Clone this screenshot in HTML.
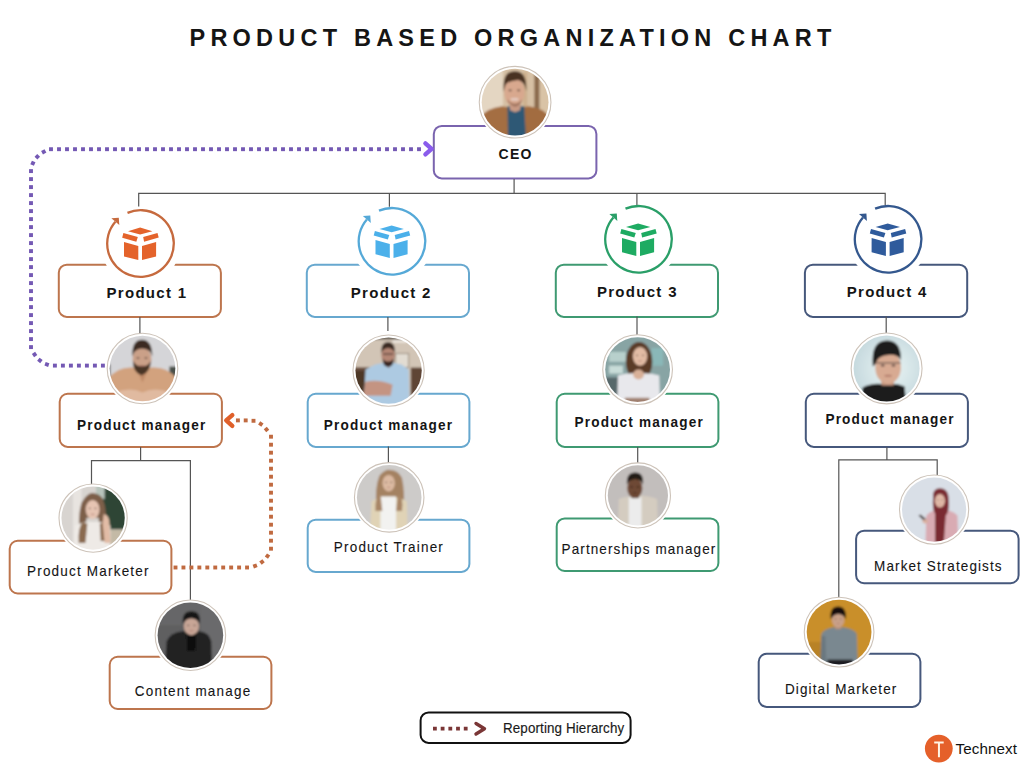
<!DOCTYPE html>
<html><head><meta charset="utf-8"><style>
html,body{margin:0;padding:0;background:#fff;}
svg{display:block;font-family:"Liberation Sans", sans-serif;}
</style></head><body>
<svg width="1024" height="768" viewBox="0 0 1024 768">
<defs>
<filter id="bl" x="-20%" y="-20%" width="140%" height="140%"><feGaussianBlur stdDeviation="0.9"/></filter>
<clipPath id="c1"><circle cx="0" cy="0" r="33.00"/></clipPath><clipPath id="c2"><circle cx="0" cy="0" r="33.00"/></clipPath><clipPath id="c3"><circle cx="0" cy="0" r="33.00"/></clipPath><clipPath id="c4"><circle cx="0" cy="0" r="33.00"/></clipPath><clipPath id="c5"><circle cx="0" cy="0" r="33.00"/></clipPath><clipPath id="c6"><circle cx="0" cy="0" r="33.00"/></clipPath><clipPath id="c7"><circle cx="0" cy="0" r="33.00"/></clipPath><clipPath id="c8"><circle cx="0" cy="0" r="33.00"/></clipPath><clipPath id="c9"><circle cx="0" cy="0" r="33.00"/></clipPath><clipPath id="c10"><circle cx="0" cy="0" r="33.00"/></clipPath><clipPath id="c11"><circle cx="0" cy="0" r="33.00"/></clipPath>
</defs>
<rect width="1024" height="768" fill="#fff"/>
<rect x="433.80" y="125.90" width="162.60" height="52.50" rx="8" fill="#fff" stroke="#7a64ae" stroke-width="2"/>
<rect x="58.80" y="264.70" width="162.10" height="52.20" rx="8" fill="#fff" stroke="#bd754d" stroke-width="2"/>
<rect x="306.80" y="264.70" width="162.20" height="52.20" rx="8" fill="#fff" stroke="#67a8cf" stroke-width="2"/>
<rect x="555.80" y="264.70" width="162.20" height="52.20" rx="8" fill="#fff" stroke="#3f9a72" stroke-width="2"/>
<rect x="804.90" y="264.70" width="162.30" height="52.20" rx="8" fill="#fff" stroke="#46587c" stroke-width="2"/>
<rect x="59.70" y="393.80" width="162.20" height="53.10" rx="8" fill="#fff" stroke="#bd754d" stroke-width="2"/>
<rect x="307.70" y="393.80" width="161.70" height="53.10" rx="8" fill="#fff" stroke="#67a8cf" stroke-width="2"/>
<rect x="556.70" y="393.80" width="161.70" height="53.10" rx="8" fill="#fff" stroke="#3f9a72" stroke-width="2"/>
<rect x="805.80" y="393.80" width="162.10" height="53.10" rx="8" fill="#fff" stroke="#46587c" stroke-width="2"/>
<rect x="9.70" y="540.80" width="161.70" height="52.70" rx="8" fill="#fff" stroke="#bd754d" stroke-width="2"/>
<rect x="109.70" y="656.80" width="161.70" height="52.20" rx="8" fill="#fff" stroke="#bd754d" stroke-width="2"/>
<rect x="307.70" y="519.70" width="161.70" height="52.20" rx="8" fill="#fff" stroke="#67a8cf" stroke-width="2"/>
<rect x="556.70" y="518.40" width="161.70" height="52.60" rx="8" fill="#fff" stroke="#3f9a72" stroke-width="2"/>
<rect x="856.10" y="530.70" width="162.50" height="52.50" rx="8" fill="#fff" stroke="#46587c" stroke-width="2"/>
<rect x="758.70" y="653.80" width="161.70" height="53.10" rx="8" fill="#fff" stroke="#46587c" stroke-width="2"/>
<circle cx="140.5" cy="243.5" r="40.5" fill="#fff"/>
<circle cx="392" cy="241.3" r="40.5" fill="#fff"/>
<circle cx="638.5" cy="239.3" r="40.5" fill="#fff"/>
<circle cx="888.1" cy="239.3" r="40.5" fill="#fff"/>
<circle cx="515.1" cy="102.2" r="38.20" fill="#fff"/>
<circle cx="142.5" cy="368.5" r="37.65" fill="#fff"/>
<circle cx="93.1" cy="518.1" r="36.45" fill="#fff"/>
<circle cx="190.4" cy="635.2" r="37.60" fill="#fff"/>
<circle cx="388.6" cy="370.6" r="37.95" fill="#fff"/>
<circle cx="389.2" cy="497.4" r="37.10" fill="#fff"/>
<circle cx="637.6" cy="369.6" r="37.20" fill="#fff"/>
<circle cx="637.9" cy="495.4" r="34.90" fill="#fff"/>
<circle cx="886.6" cy="368.4" r="37.80" fill="#fff"/>
<circle cx="934.1" cy="509.6" r="36.95" fill="#fff"/>
<circle cx="839.1" cy="632.1" r="37.20" fill="#fff"/>
<path d="M514.1,179 L514.1,193.4" fill="none" stroke="#555" stroke-width="1.2"/>
<path d="M138.7,206.5 L138.7,193.4 L885.2,193.4 L885.2,205.0" fill="none" stroke="#555" stroke-width="1.2"/>
<path d="M389.4,193.4 L389.4,206.7" fill="none" stroke="#555" stroke-width="1.2"/>
<path d="M636.9,193.4 L636.9,205.3" fill="none" stroke="#555" stroke-width="1.2"/>
<path d="M139.9,317 L139.9,334" fill="none" stroke="#555" stroke-width="1.2"/>
<path d="M140.6,447 L140.6,460.6" fill="none" stroke="#555" stroke-width="1.2"/>
<path d="M91.5,484 L91.5,460.6 L190.4,460.6 L190.4,600" fill="none" stroke="#555" stroke-width="1.2"/>
<path d="M387.9,317 L387.9,331" fill="none" stroke="#555" stroke-width="1.2"/>
<path d="M388.4,446.5 L388.4,463" fill="none" stroke="#555" stroke-width="1.2"/>
<path d="M637,316.5 L637,335" fill="none" stroke="#555" stroke-width="1.2"/>
<path d="M637.7,447 L637.7,463" fill="none" stroke="#555" stroke-width="1.2"/>
<path d="M886.2,316.5 L886.2,333" fill="none" stroke="#555" stroke-width="1.2"/>
<path d="M886.9,447.3 L886.9,459.9" fill="none" stroke="#555" stroke-width="1.2"/>
<path d="M838.8,598 L838.8,459.9 L937.2,459.9 L937.2,475" fill="none" stroke="#555" stroke-width="1.2"/>
<path d="M127.49,212.85 A33.3,33.3 0 1 1 115.37,221.65" fill="none" stroke="#c66a3e" stroke-width="2.3"/>
<path d="M118.78,217.73 L111.40,218.24 L119.30,225.11Z" fill="#c66a3e"/>
<g transform="translate(140.5,243.5)" fill="#e4632b"><path d="M-12.5,-12.3 L-0.4,-15.9 L11.9,-12.3 L-0.4,-9.1Z"/><path d="M-17.1,-10.4 L-2.7,-6.4 L-4.2,-1.7 L-18.3,-5.7Z"/><path d="M17.0,-10.4 L2.7,-6.4 L3.6,-1.7 L18.2,-5.9Z"/><path d="M-16.5,-1.4 L-2.2,2.6 L-2.2,16.6 L-16.5,12.9Z"/><path d="M1.5,2.6 L15.6,-1.4 L15.6,12.9 L1.5,16.6Z"/></g>
<path d="M378.99,210.65 A33.3,33.3 0 1 1 366.87,219.45" fill="none" stroke="#55a9d8" stroke-width="2.3"/>
<path d="M370.28,215.53 L362.90,216.04 L370.80,222.91Z" fill="#55a9d8"/>
<g transform="translate(392,241.3)" fill="#4bb0ea"><path d="M-12.5,-12.3 L-0.4,-15.9 L11.9,-12.3 L-0.4,-9.1Z"/><path d="M-17.1,-10.4 L-2.7,-6.4 L-4.2,-1.7 L-18.3,-5.7Z"/><path d="M17.0,-10.4 L2.7,-6.4 L3.6,-1.7 L18.2,-5.9Z"/><path d="M-16.5,-1.4 L-2.2,2.6 L-2.2,16.6 L-16.5,12.9Z"/><path d="M1.5,2.6 L15.6,-1.4 L15.6,12.9 L1.5,16.6Z"/></g>
<path d="M625.49,208.65 A33.3,33.3 0 1 1 613.37,217.45" fill="none" stroke="#2a9f68" stroke-width="2.3"/>
<path d="M616.78,213.53 L609.40,214.04 L617.30,220.91Z" fill="#2a9f68"/>
<g transform="translate(638.5,239.3)" fill="#1eab62"><path d="M-12.5,-12.3 L-0.4,-15.9 L11.9,-12.3 L-0.4,-9.1Z"/><path d="M-17.1,-10.4 L-2.7,-6.4 L-4.2,-1.7 L-18.3,-5.7Z"/><path d="M17.0,-10.4 L2.7,-6.4 L3.6,-1.7 L18.2,-5.9Z"/><path d="M-16.5,-1.4 L-2.2,2.6 L-2.2,16.6 L-16.5,12.9Z"/><path d="M1.5,2.6 L15.6,-1.4 L15.6,12.9 L1.5,16.6Z"/></g>
<path d="M875.09,208.65 A33.3,33.3 0 1 1 862.97,217.45" fill="none" stroke="#34588e" stroke-width="2.3"/>
<path d="M866.38,213.53 L859.00,214.04 L866.90,220.91Z" fill="#34588e"/>
<g transform="translate(888.1,239.3)" fill="#2f5b9c"><path d="M-12.5,-12.3 L-0.4,-15.9 L11.9,-12.3 L-0.4,-9.1Z"/><path d="M-17.1,-10.4 L-2.7,-6.4 L-4.2,-1.7 L-18.3,-5.7Z"/><path d="M17.0,-10.4 L2.7,-6.4 L3.6,-1.7 L18.2,-5.9Z"/><path d="M-16.5,-1.4 L-2.2,2.6 L-2.2,16.6 L-16.5,12.9Z"/><path d="M1.5,2.6 L15.6,-1.4 L15.6,12.9 L1.5,16.6Z"/></g>
<circle cx="515.1" cy="102.2" r="35.85" fill="#fff" stroke="#cdc3b9" stroke-width="1.1"/>
<g transform="translate(515.1,102.2) scale(1.0121)"><g clip-path="url(#c1)"><g filter="url(#bl)"><rect x="-40" y="-40" width="80" height="80" fill="#d6c0a4"/>
<rect x="-40" y="-40" width="28" height="80" fill="#e4d6c2"/>
<rect x="8" y="-30" width="4" height="40" fill="#cdb08e"/>
<rect x="19" y="-30" width="5" height="42" fill="#8a6b4e"/>
<rect x="25" y="-30" width="9" height="42" fill="#d9c3a6"/>
<path d="M-34,40 L-33,14 Q-28,6 -13,4 L-6,5 L-2,40Z" fill="#a46e42"/>
<path d="M34,40 L34,16 Q30,6 13,4 L8,5 L4,40Z" fill="#a26c40"/>
<path d="M-7.5,4 L9,4 L11,40 L-7,40Z" fill="#2d5874"/>
<path d="M-6,-2 L6,-2 L5,8 L0,10 L-5,8Z" fill="#c89a84"/>
<ellipse cx="-0.7" cy="-10" rx="10" ry="14.2" fill="#d8a88e"/><ellipse cx="-4.90" cy="-11.70" rx="1.60" ry="0.85" fill="#3a2820" opacity="0.75"/><ellipse cx="3.50" cy="-11.70" rx="1.60" ry="0.85" fill="#3a2820" opacity="0.75"/><ellipse cx="-0.70" cy="-2.90" rx="3.00" ry="0.85" fill="#9a5a50" opacity="0.6"/>
<path d="M-11.2,-10 Q-13,-31 -0.5,-30.5 Q12,-31 11,-11 Q10,-20 3,-22 Q-6,-21 -9,-18 Q-10.5,-15 -11.2,-10Z" fill="#4a3322"/>
<path d="M-8,-3 Q0,6 7,-3 Q6,3 0,4.5 Q-6,3 -8,-3Z" fill="#7a5040" opacity="0.6"/>
<ellipse cx="-0.5" cy="-3" rx="4" ry="1.2" fill="#f0e0d8" opacity="0.8"/>
</g></g></g>
<circle cx="142.5" cy="368.5" r="35.30" fill="#fff" stroke="#cdc3b9" stroke-width="1.1"/>
<g transform="translate(142.5,368.5) scale(0.9955)"><g clip-path="url(#c2)"><g filter="url(#bl)"><rect x="-40" y="-40" width="80" height="80" fill="#d5d5d8"/>
<rect x="-40" y="-4" width="7.5" height="26" fill="#1e1e1e"/>
<rect x="27" y="-2" width="8" height="14" fill="#4a5048"/>
<path d="M-36,40 L-34,10 Q-26,-1 -12,-1 L12,-1 Q26,-1 34,10 L36,40Z" fill="#d2a27e"/>
<path d="M-30,40 L-28,24 Q-12,18 0,24 Q12,18 28,24 L30,40Z" fill="#e0baa0"/>
<path d="M-6,0 L0,14 L6,0Z" fill="#c08a68"/>
<ellipse cx="-0.5" cy="-9" rx="9.5" ry="12.5" fill="#caa088"/><ellipse cx="-4.49" cy="-10.50" rx="1.52" ry="0.75" fill="#3a2820" opacity="0.75"/><ellipse cx="3.49" cy="-10.50" rx="1.52" ry="0.75" fill="#3a2820" opacity="0.75"/><ellipse cx="-0.50" cy="-2.75" rx="2.85" ry="0.75" fill="#9a5a50" opacity="0.6"/>
<path d="M-9.5,-8 Q-10,4 -1,7 Q8,4 8.5,-8 Q6,-2 -0.5,-2 Q-7,-2 -9.5,-8Z" fill="#4a3426"/>
<path d="M-10.2,-12 Q-11,-29 -0.5,-29 Q10,-29 9.8,-12 Q9,-19 -0.5,-20 Q-9,-19 -10.2,-12Z" fill="#3a2a20"/>
</g></g></g>
<circle cx="93.1" cy="518.1" r="34.10" fill="#fff" stroke="#cdc3b9" stroke-width="1.1"/>
<g transform="translate(93.1,518.1) scale(0.9591)"><g clip-path="url(#c3)"><g filter="url(#bl)"><rect x="-40" y="-40" width="80" height="80" fill="#d8d4d0"/>
<rect x="-21" y="-40" width="9" height="80" fill="#e8e4e0"/>
<path d="M12,-40 L40,-40 L40,12 L10,12 L6,-8 Q5,-20 9,-30Z" fill="#2f4434"/>
<rect x="3" y="-36" width="9" height="16" fill="#b8c4bc"/>
<rect x="8" y="12" width="32" height="30" fill="#c4baa6"/>
<path d="M-14,22 Q-16,-4 -12,-16 Q-6,-27 1,-26 Q10,-25 12,-14 Q15,0 13,24 L6,24 L6,0 L-7,0 L-8,24Z" fill="#7d5e48"/>
<path d="M-20,40 L-19,8 Q-10,3 0,4 Q10,3 18,8 L18,40Z" fill="#eeeae6"/>
<path d="M-15,26 Q-16,10 -11,4 L-6,6 L-8,26Z" fill="#8a6a50"/>
<path d="M13,24 Q15,10 11,4 L7,6 L8,24Z" fill="#8a6a50"/>
<ellipse cx="-0.5" cy="-9" rx="7.2" ry="10" fill="#e6c4b2"/><ellipse cx="-3.52" cy="-10.20" rx="1.15" ry="0.60" fill="#3a2820" opacity="0.75"/><ellipse cx="2.52" cy="-10.20" rx="1.15" ry="0.60" fill="#3a2820" opacity="0.75"/><ellipse cx="-0.50" cy="-4.00" rx="2.16" ry="0.60" fill="#9a5a50" opacity="0.6"/>
<path d="M11,-4 Q16,-4 17,4 L18,26 L12,26 L10,6Z" fill="#e2bca6"/>
</g></g></g>
<circle cx="190.4" cy="635.2" r="35.25" fill="#fff" stroke="#cdc3b9" stroke-width="1.1"/>
<g transform="translate(190.4,635.2) scale(0.9939)"><g clip-path="url(#c4)"><g filter="url(#bl)"><rect x="-40" y="-40" width="80" height="80" fill="#5e5e60"/>
<rect x="-40" y="-40" width="80" height="30" fill="#666668"/>
<rect x="10" y="-40" width="30" height="80" fill="#6a6a6c"/>
<path d="M-26,40 L-24,6 Q-20,-3 -8,-4 L9,-4 Q19,-3 21,6 L22,40Z" fill="#242424"/>
<path d="M-4,-4 L6,-4 L5,16 L-3,16Z" fill="#111"/>
<ellipse cx="1" cy="-9" rx="7.6" ry="9" fill="#c8a696"/><ellipse cx="-2.19" cy="-10.08" rx="1.22" ry="0.54" fill="#2a2020" opacity="0.75"/><ellipse cx="4.19" cy="-10.08" rx="1.22" ry="0.54" fill="#2a2020" opacity="0.75"/><ellipse cx="1.00" cy="-4.50" rx="2.28" ry="0.54" fill="#9a5a50" opacity="0.6"/>
<path d="M-7.5,-11 Q-9,-24 1,-24 Q11,-24 9.5,-11 Q8,-16 1,-17 Q-6,-16 -7.5,-11Z" fill="#151515"/>
</g></g></g>
<circle cx="388.6" cy="370.6" r="35.60" fill="#fff" stroke="#cdc3b9" stroke-width="1.1"/>
<g transform="translate(388.6,370.6) scale(1.0045)"><g clip-path="url(#c5)"><g filter="url(#bl)"><rect x="-40" y="-40" width="80" height="80" fill="#d2c5b6"/>
<rect x="-40" y="-40" width="80" height="9" fill="#5c544c"/>
<rect x="4" y="-30" width="14" height="2" fill="#f4f0ea"/>
<rect x="7" y="-17" width="13" height="14" fill="#e2dcd2" stroke="#8a7a6a" stroke-width="0.8"/>
<rect x="-40" y="-3" width="26" height="44" fill="#4e3828"/>
<rect x="22" y="-3" width="18" height="44" fill="#5e4434"/>
<rect x="-34" y="-3" width="22" height="3" fill="#6a5040"/>
<path d="M-25,40 L-23,-1 Q-12,-8 0,-8 Q13,-8 20,-1 L21,40Z" fill="#adcae2"/>
<path d="M-25,25 L-23,11 Q-10,8 4,14 L2,25Z" fill="#c49482"/>
<path d="M-3,-8 L3,-8 L0,-2Z" fill="#9a7060"/>
<ellipse cx="-0.5" cy="-15.5" rx="6.8" ry="8.3" fill="#b48674"/>
<path d="M-6,-12 Q-6,-4 -0.5,-3.5 Q5,-4 5.5,-12 Q3,-9 -0.5,-9 Q-4,-9 -6,-12Z" fill="#3a2820"/>
<path d="M-7.3,-17 Q-8,-28.5 -0.5,-28.5 Q7,-28.5 6.3,-17 Q5,-22 -0.5,-22.5 Q-6,-22 -7.3,-17Z" fill="#3a2a20"/>
<path d="M-5.5,-16.5 L4.5,-16.5" stroke="#2a2020" stroke-width="0.9"/>
</g></g></g>
<circle cx="389.2" cy="497.4" r="34.75" fill="#fff" stroke="#cdc3b9" stroke-width="1.1"/>
<g transform="translate(389.2,497.4) scale(0.9788)"><g clip-path="url(#c6)"><g filter="url(#bl)"><rect x="-40" y="-40" width="80" height="80" fill="#cdcbc9"/>
<path d="M-13,12 Q-15,-10 -10,-22 Q-4,-29 1,-28 Q9,-28 13,-20 Q16,-6 15,12 Z" fill="#a48262"/>
<path d="M-20,40 L-18,4 Q-12,0 -6,0 L6,0 Q12,0 18,4 L19,40Z" fill="#e0d3b6"/>
<path d="M-9,40 L-9,-1 L7,-1 L7,40Z" fill="#f2f2f0"/>
<path d="M-14,14 Q-15,0 -9,-4 L-7,14Z" fill="#a88666"/>
<path d="M13,14 Q15,0 9,-4 L7,14Z" fill="#a88666"/>
<ellipse cx="-0.5" cy="-14.5" rx="6.3" ry="8.5" fill="#dcbaa2"/><ellipse cx="-3.15" cy="-15.52" rx="1.01" ry="0.51" fill="#3a2820" opacity="0.75"/><ellipse cx="2.15" cy="-15.52" rx="1.01" ry="0.51" fill="#3a2820" opacity="0.75"/><ellipse cx="-0.50" cy="-10.25" rx="1.89" ry="0.51" fill="#9a5a50" opacity="0.6"/>
</g></g></g>
<circle cx="637.6" cy="369.6" r="34.85" fill="#fff" stroke="#cdc3b9" stroke-width="1.1"/>
<g transform="translate(637.6,369.6) scale(0.9818)"><g clip-path="url(#c7)"><g filter="url(#bl)"><rect x="-40" y="-40" width="80" height="80" fill="#88a4a4"/>
<rect x="-29" y="-18" width="17" height="10" fill="#b8d0cc"/>
<rect x="-29" y="-4" width="14" height="8" fill="#c8dcd8"/>
<rect x="-40" y="8" width="22" height="32" fill="#56676a"/>
<rect x="14" y="-22" width="12" height="18" fill="#8ab8b8"/>
<ellipse cx="1.5" cy="-8" rx="13.5" ry="20" fill="#5a3a28"/>
<path d="M-21,40 L-20,6 Q-10,3 0,4 Q12,3 22,6 L23,40Z" fill="#e8e8ec"/>
<rect x="-13" y="28.7" width="25" height="6" fill="#a08070"/>
<ellipse cx="2.5" cy="-13.5" rx="7.3" ry="9.5" fill="#e2bca4"/><ellipse cx="-0.57" cy="-14.64" rx="1.17" ry="0.57" fill="#3a2820" opacity="0.75"/><ellipse cx="5.57" cy="-14.64" rx="1.17" ry="0.57" fill="#3a2820" opacity="0.75"/><ellipse cx="2.50" cy="-8.75" rx="2.19" ry="0.57" fill="#9a5a50" opacity="0.6"/>
<ellipse cx="1" cy="5" rx="5.5" ry="5" fill="#d8b098"/>
</g></g></g>
<circle cx="637.9" cy="495.4" r="32.55" fill="#fff" stroke="#cdc3b9" stroke-width="1.1"/>
<g transform="translate(637.9,495.4) scale(0.9121)"><g clip-path="url(#c8)"><g filter="url(#bl)"><rect x="-40" y="-40" width="80" height="80" fill="#c2bebc"/>
<path d="M-22,40 L-21,4 Q-10,0 0,0 Q12,0 21,4 L22,40Z" fill="#d4ccc0"/>
<path d="M-10,40 L-10,2 L4,2 L4,40Z" fill="#ececec"/>
<rect x="-7" y="-2" width="8" height="5" fill="#5a3a28"/>
<ellipse cx="-3.4" cy="-8" rx="8.3" ry="11" fill="#6e4834"/><ellipse cx="-6.89" cy="-9.32" rx="1.33" ry="0.66" fill="#1e1410" opacity="0.75"/><ellipse cx="0.09" cy="-9.32" rx="1.33" ry="0.66" fill="#1e1410" opacity="0.75"/><ellipse cx="-3.40" cy="-2.50" rx="2.49" ry="0.66" fill="#3a2018" opacity="0.6"/>
<path d="M-12,-12 Q-13,-25 -3,-25 Q7,-25 5.5,-12 Q4,-17 -3,-18 Q-10,-17 -12,-12Z" fill="#241a14"/>
</g></g></g>
<circle cx="886.6" cy="368.4" r="35.45" fill="#fff" stroke="#cdc3b9" stroke-width="1.1"/>
<g transform="translate(886.6,368.4) scale(1.0000)"><g clip-path="url(#c9)"><g filter="url(#bl)"><rect x="-40" y="-40" width="80" height="80" fill="#d2e4e8"/>
<radialGradient id="g4" cx="0.55" cy="0.5" r="0.6"><stop offset="0" stop-color="#eaf4f4"/><stop offset="1" stop-color="#bcd2d8"/></radialGradient>
<rect x="-40" y="-40" width="80" height="80" fill="url(#g4)"/>
<path d="M-26,40 L-24,19 Q-14,14 -2,16 Q10,14 18,18 L20,40Z" fill="#1a1a1e"/>
<path d="M-6,8 L8,8 L7,17 L-5,17Z" fill="#c89880"/>
<ellipse cx="1.5" cy="-1" rx="12.8" ry="16.5" fill="#d8aa92"/><ellipse cx="-3.88" cy="-2.98" rx="2.05" ry="0.99" fill="#2a2020" opacity="0.75"/><ellipse cx="6.88" cy="-2.98" rx="2.05" ry="0.99" fill="#2a2020" opacity="0.75"/><ellipse cx="1.50" cy="7.25" rx="3.84" ry="0.99" fill="#9a5a50" opacity="0.6"/>
<path d="M-13.8,-2 Q-16,-28 0,-28 Q15,-28 14.3,-8 Q12,-14 2,-13.5 Q-7,-13 -9.5,-8 Q-10.5,-4 -13.8,-2Z" fill="#1c1a1a"/>
<path d="M-10,-5.5 L14,-5.5" stroke="#5a4a44" stroke-width="1"/>
</g></g></g>
<circle cx="934.1" cy="509.6" r="34.60" fill="#fff" stroke="#cdc3b9" stroke-width="1.1"/>
<g transform="translate(934.1,509.6) scale(0.9742)"><g clip-path="url(#c10)"><g filter="url(#bl)"><rect x="-40" y="-40" width="80" height="80" fill="#d9dfe7"/>
<path d="M-9,40 L-8,6 Q-2,0 6,0 Q18,0 24,6 L25,40Z" fill="#d9abb3"/>
<path d="M-1,-12 Q-2,-22 6,-22 Q15,-22 15,-10 Q16,2 12,6 L10,34 L1,34 L1,4 Q-2,0 -1,-12Z" fill="#7a2a30"/>
<ellipse cx="6" cy="-9" rx="5.2" ry="6.9" fill="#e2baa8"/><ellipse cx="3.82" cy="-9.83" rx="0.83" ry="0.41" fill="#3a2820" opacity="0.75"/><ellipse cx="8.18" cy="-9.83" rx="0.83" ry="0.41" fill="#3a2820" opacity="0.75"/><ellipse cx="6.00" cy="-5.55" rx="1.56" ry="0.41" fill="#9a5a50" opacity="0.6"/>
<path d="M-16,6 L-10,12 L-8,10 L-14,5Z" fill="#4a4040"/>
<ellipse cx="-9" cy="12" rx="3" ry="2.2" fill="#dab0a0"/>
</g></g></g>
<circle cx="839.1" cy="632.1" r="34.85" fill="#fff" stroke="#cdc3b9" stroke-width="1.1"/>
<g transform="translate(839.1,632.1) scale(0.9818)"><g clip-path="url(#c11)"><g filter="url(#bl)"><rect x="-40" y="-40" width="80" height="80" fill="#c98f2c"/>
<rect x="-40" y="10" width="22" height="30" fill="#b88226"/>
<path d="M-19,32 L-18,2 Q-16,-3 -6,-5 L5,-5 Q16,-3 18,2 L19,32Z" fill="#7a8890"/>
<path d="M-19,32 L-18,4 L-14,4 L-13,32Z" fill="#6a7880"/>
<rect x="-12" y="28" width="26" height="12" fill="#1e1e22"/>
<rect x="-4" y="-9" width="6" height="6" fill="#b89078"/>
<ellipse cx="-1" cy="-12.5" rx="6.3" ry="7.8" fill="#c9a088"/><ellipse cx="-3.65" cy="-13.44" rx="1.01" ry="0.47" fill="#2a2020" opacity="0.75"/><ellipse cx="1.65" cy="-13.44" rx="1.01" ry="0.47" fill="#2a2020" opacity="0.75"/><ellipse cx="-1.00" cy="-8.60" rx="1.89" ry="0.47" fill="#9a5a50" opacity="0.6"/>
<path d="M-8.5,-13 Q-10,-26 -1,-26 Q8,-26 6.8,-13 Q5,-18 -1,-18.5 Q-6,-18 -8.5,-13Z" fill="#16110e"/>
</g></g></g>
<g fill="#7459b4"><rect x="100.95" y="363.65" width="3.9" height="3.9"/><rect x="92.95" y="363.65" width="3.9" height="3.9"/><rect x="84.95" y="363.65" width="3.9" height="3.9"/><rect x="76.95" y="363.65" width="3.9" height="3.9"/><rect x="68.95" y="363.65" width="3.9" height="3.9"/><rect x="60.95" y="363.65" width="3.9" height="3.9"/><rect x="52.95" y="363.65" width="3.9" height="3.9"/><rect x="-1.95" y="-1.95" width="3.9" height="3.9" transform="translate(46.90,364.40) rotate(-160.9)"/><rect x="-1.95" y="-1.95" width="3.9" height="3.9" transform="translate(39.90,360.40) rotate(-141.2)"/><rect x="-1.95" y="-1.95" width="3.9" height="3.9" transform="translate(34.60,354.50) rotate(-123.8)"/><rect x="29.05" y="345.15" width="3.9" height="3.9"/><rect x="29.05" y="337.15" width="3.9" height="3.9"/><rect x="29.05" y="329.15" width="3.9" height="3.9"/><rect x="29.05" y="321.15" width="3.9" height="3.9"/><rect x="29.05" y="313.15" width="3.9" height="3.9"/><rect x="29.05" y="305.15" width="3.9" height="3.9"/><rect x="29.05" y="297.15" width="3.9" height="3.9"/><rect x="29.05" y="289.15" width="3.9" height="3.9"/><rect x="29.05" y="281.15" width="3.9" height="3.9"/><rect x="29.05" y="273.15" width="3.9" height="3.9"/><rect x="29.05" y="265.15" width="3.9" height="3.9"/><rect x="29.05" y="257.15" width="3.9" height="3.9"/><rect x="29.05" y="249.15" width="3.9" height="3.9"/><rect x="29.05" y="241.15" width="3.9" height="3.9"/><rect x="29.05" y="233.15" width="3.9" height="3.9"/><rect x="29.05" y="225.15" width="3.9" height="3.9"/><rect x="29.05" y="217.15" width="3.9" height="3.9"/><rect x="29.05" y="209.15" width="3.9" height="3.9"/><rect x="29.05" y="201.15" width="3.9" height="3.9"/><rect x="29.05" y="193.15" width="3.9" height="3.9"/><rect x="29.05" y="185.15" width="3.9" height="3.9"/><rect x="29.05" y="177.15" width="3.9" height="3.9"/><rect x="29.05" y="169.15" width="3.9" height="3.9"/><rect x="-1.95" y="-1.95" width="3.9" height="3.9" transform="translate(32.90,163.30) rotate(-66.2)"/><rect x="-1.95" y="-1.95" width="3.9" height="3.9" transform="translate(37.30,156.80) rotate(-46.5)"/><rect x="-1.95" y="-1.95" width="3.9" height="3.9" transform="translate(43.75,151.85) rotate(-29.0)"/><rect x="49.05" y="147.25" width="3.9" height="3.9"/><rect x="57.05" y="147.25" width="3.9" height="3.9"/><rect x="65.05" y="147.25" width="3.9" height="3.9"/><rect x="73.05" y="147.25" width="3.9" height="3.9"/><rect x="81.05" y="147.25" width="3.9" height="3.9"/><rect x="89.05" y="147.25" width="3.9" height="3.9"/><rect x="97.05" y="147.25" width="3.9" height="3.9"/><rect x="105.05" y="147.25" width="3.9" height="3.9"/><rect x="113.05" y="147.25" width="3.9" height="3.9"/><rect x="121.05" y="147.25" width="3.9" height="3.9"/><rect x="129.05" y="147.25" width="3.9" height="3.9"/><rect x="137.05" y="147.25" width="3.9" height="3.9"/><rect x="145.05" y="147.25" width="3.9" height="3.9"/><rect x="153.05" y="147.25" width="3.9" height="3.9"/><rect x="161.05" y="147.25" width="3.9" height="3.9"/><rect x="169.05" y="147.25" width="3.9" height="3.9"/><rect x="177.05" y="147.25" width="3.9" height="3.9"/><rect x="185.05" y="147.25" width="3.9" height="3.9"/><rect x="193.05" y="147.25" width="3.9" height="3.9"/><rect x="201.05" y="147.25" width="3.9" height="3.9"/><rect x="209.05" y="147.25" width="3.9" height="3.9"/><rect x="217.05" y="147.25" width="3.9" height="3.9"/><rect x="225.05" y="147.25" width="3.9" height="3.9"/><rect x="233.05" y="147.25" width="3.9" height="3.9"/><rect x="241.05" y="147.25" width="3.9" height="3.9"/><rect x="249.05" y="147.25" width="3.9" height="3.9"/><rect x="257.05" y="147.25" width="3.9" height="3.9"/><rect x="265.05" y="147.25" width="3.9" height="3.9"/><rect x="273.05" y="147.25" width="3.9" height="3.9"/><rect x="281.05" y="147.25" width="3.9" height="3.9"/><rect x="289.05" y="147.25" width="3.9" height="3.9"/><rect x="297.05" y="147.25" width="3.9" height="3.9"/><rect x="305.05" y="147.25" width="3.9" height="3.9"/><rect x="313.05" y="147.25" width="3.9" height="3.9"/><rect x="321.05" y="147.25" width="3.9" height="3.9"/><rect x="329.05" y="147.25" width="3.9" height="3.9"/><rect x="337.05" y="147.25" width="3.9" height="3.9"/><rect x="345.05" y="147.25" width="3.9" height="3.9"/><rect x="353.05" y="147.25" width="3.9" height="3.9"/><rect x="361.05" y="147.25" width="3.9" height="3.9"/><rect x="369.05" y="147.25" width="3.9" height="3.9"/><rect x="377.05" y="147.25" width="3.9" height="3.9"/><rect x="385.05" y="147.25" width="3.9" height="3.9"/><rect x="393.05" y="147.25" width="3.9" height="3.9"/><rect x="401.05" y="147.25" width="3.9" height="3.9"/><rect x="409.05" y="147.25" width="3.9" height="3.9"/><rect x="417.05" y="147.25" width="3.9" height="3.9"/></g>
<path d="M425.4,143.4 L431.6,148.9 L425.4,154.4" fill="none" stroke="#8a5cec" stroke-width="4.4" stroke-linecap="round" stroke-linejoin="round"/>
<g fill="#c06a40"><rect x="173.55" y="565.55" width="3.9" height="3.9"/><rect x="181.50" y="565.55" width="3.9" height="3.9"/><rect x="189.45" y="565.55" width="3.9" height="3.9"/><rect x="197.40" y="565.55" width="3.9" height="3.9"/><rect x="205.35" y="565.55" width="3.9" height="3.9"/><rect x="213.30" y="565.55" width="3.9" height="3.9"/><rect x="221.25" y="565.55" width="3.9" height="3.9"/><rect x="229.20" y="565.55" width="3.9" height="3.9"/><rect x="237.15" y="565.55" width="3.9" height="3.9"/><rect x="245.10" y="565.55" width="3.9" height="3.9"/><rect x="-1.95" y="-1.95" width="3.9" height="3.9" transform="translate(255.10,565.90) rotate(-20.5)"/><rect x="-1.95" y="-1.95" width="3.9" height="3.9" transform="translate(262.00,561.90) rotate(-38.3)"/><rect x="-1.95" y="-1.95" width="3.9" height="3.9" transform="translate(267.50,556.10) rotate(-55.7)"/><rect x="269.05" y="546.75" width="3.9" height="3.9"/><rect x="269.05" y="538.75" width="3.9" height="3.9"/><rect x="269.05" y="530.75" width="3.9" height="3.9"/><rect x="269.05" y="522.75" width="3.9" height="3.9"/><rect x="269.05" y="514.75" width="3.9" height="3.9"/><rect x="269.05" y="506.75" width="3.9" height="3.9"/><rect x="269.05" y="498.75" width="3.9" height="3.9"/><rect x="269.05" y="490.75" width="3.9" height="3.9"/><rect x="269.05" y="482.75" width="3.9" height="3.9"/><rect x="269.05" y="474.75" width="3.9" height="3.9"/><rect x="269.05" y="466.75" width="3.9" height="3.9"/><rect x="269.05" y="458.75" width="3.9" height="3.9"/><rect x="269.05" y="450.75" width="3.9" height="3.9"/><rect x="269.05" y="442.75" width="3.9" height="3.9"/><rect x="269.05" y="434.75" width="3.9" height="3.9"/><rect x="-1.95" y="-1.95" width="3.9" height="3.9" transform="translate(266.50,429.50) rotate(-128.8)"/><rect x="-1.95" y="-1.95" width="3.9" height="3.9" transform="translate(260.80,424.00) rotate(-146.2)"/><rect x="251.55" y="418.85" width="3.9" height="3.9"/><rect x="243.75" y="418.45" width="3.9" height="3.9"/><rect x="235.95" y="418.45" width="3.9" height="3.9"/></g>
<path d="M232.3,415.2 L226.2,420.4 L232.3,425.8" fill="none" stroke="#e0602a" stroke-width="4.4" stroke-linecap="round" stroke-linejoin="round"/>
<text x="189.5" y="46.2" font-size="23.5" font-weight="bold" letter-spacing="5.22" text-anchor="start" fill="#151515">PRODUCT BASED ORGANIZATION CHART</text>
<text x="515.6" y="158.8" font-size="14" font-weight="bold" letter-spacing="1.3" text-anchor="middle" fill="#151515">CEO</text>
<text x="106.5" y="297.7" font-size="15" font-weight="bold" letter-spacing="1.3" text-anchor="start" fill="#151515">Product 1</text>
<text x="350.8" y="297.7" font-size="15" font-weight="bold" letter-spacing="1.3" text-anchor="start" fill="#151515">Product 2</text>
<text x="596.9" y="296.9" font-size="15" font-weight="bold" letter-spacing="1.3" text-anchor="start" fill="#151515">Product 3</text>
<text x="846.7" y="296.9" font-size="15" font-weight="bold" letter-spacing="1.3" text-anchor="start" fill="#151515">Product 4</text>
<text transform="translate(77,429.8) scale(1,1.11)" x="0" y="0" font-size="13.6" font-weight="bold" letter-spacing="1.17" text-anchor="start" fill="#151515">Product manager</text>
<text transform="translate(323.8,429.8) scale(1,1.11)" x="0" y="0" font-size="13.6" font-weight="bold" letter-spacing="1.17" text-anchor="start" fill="#151515">Product manager</text>
<text transform="translate(574.5,426.8) scale(1,1.11)" x="0" y="0" font-size="13.6" font-weight="bold" letter-spacing="1.17" text-anchor="start" fill="#151515">Product manager</text>
<text transform="translate(825.4,423.8) scale(1,1.11)" x="0" y="0" font-size="13.6" font-weight="bold" letter-spacing="1.17" text-anchor="start" fill="#151515">Product manager</text>
<text transform="translate(27,576) scale(1,1.12)" x="0" y="0" font-size="13.5" font-weight="normal" letter-spacing="1.2" text-anchor="start" fill="#151515" stroke="#151515" stroke-width="0.1">Product Marketer</text>
<text transform="translate(134.8,695.9) scale(1,1.12)" x="0" y="0" font-size="13.5" font-weight="normal" letter-spacing="1.2" text-anchor="start" fill="#151515" stroke="#151515" stroke-width="0.1">Content manage</text>
<text transform="translate(333.8,551.9) scale(1,1.12)" x="0" y="0" font-size="13.5" font-weight="normal" letter-spacing="1.2" text-anchor="start" fill="#151515" stroke="#151515" stroke-width="0.1">Product Trainer</text>
<text transform="translate(561.6,553.6) scale(1,1.12)" x="0" y="0" font-size="13.5" font-weight="normal" letter-spacing="1.1" text-anchor="start" fill="#151515" stroke="#151515" stroke-width="0.1">Partnerships manager</text>
<text transform="translate(874.1,570.8) scale(1,1.12)" x="0" y="0" font-size="13.5" font-weight="normal" letter-spacing="1.1" text-anchor="start" fill="#151515" stroke="#151515" stroke-width="0.1">Market Strategists</text>
<text transform="translate(784.9,694.0) scale(1,1.12)" x="0" y="0" font-size="13.5" font-weight="normal" letter-spacing="1.13" text-anchor="start" fill="#151515" stroke="#151515" stroke-width="0.1">Digital Marketer</text>
<rect x="420.6" y="712.4" width="210" height="30.5" rx="8" fill="#fff" stroke="#111" stroke-width="2"/>
<path d="M433,728.7 L471,728.7" stroke="#7a3636" stroke-width="3.8" stroke-dasharray="3.8 3.9" fill="none"/>
<path d="M476,723.5 L484.5,728.7 L476,734" fill="none" stroke="#7a3636" stroke-width="3.4" stroke-linecap="round" stroke-linejoin="round"/>
<text transform="translate(503,733) scale(1,1.09)" x="0" y="0" font-size="13.4" font-weight="normal" letter-spacing="0.12" text-anchor="start" fill="#1a1a1a" stroke="#1a1a1a" stroke-width="0.15">Reporting Hierarchy</text>
<circle cx="938.8" cy="748.6" r="13.9" fill="#e5602a"/>
<path d="M934.2,742.4 L943.7,742.4 M938.95,742.4 L938.95,757.3" stroke="#fff4e4" stroke-width="2"/>
<text x="955.6" y="753.9" font-size="15.2" font-weight="normal" letter-spacing="0.07" text-anchor="start" fill="#111">Technext</text>
</svg>
</body></html>
